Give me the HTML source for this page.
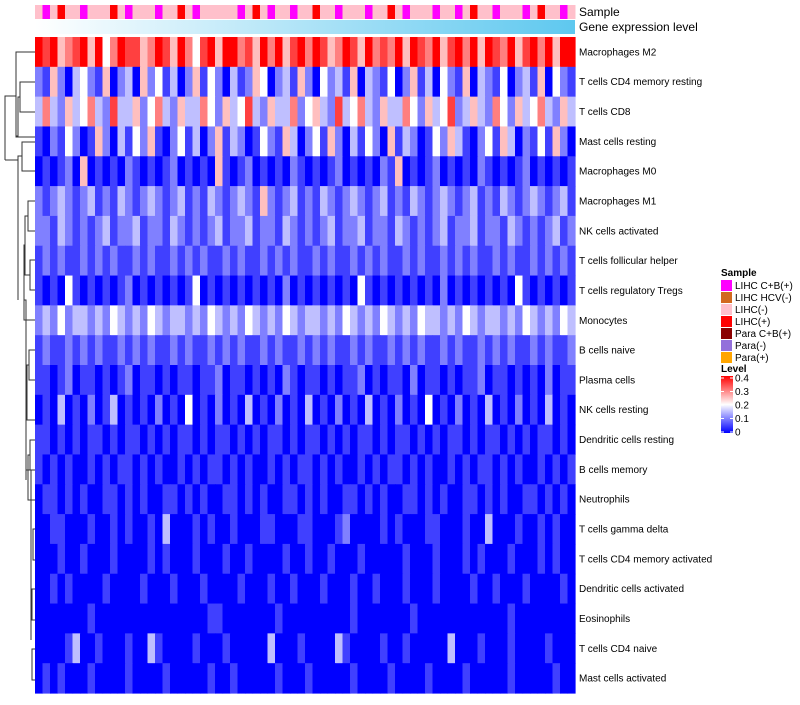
<!DOCTYPE html>
<html><head><meta charset="utf-8"><style>
body{margin:0;background:#fff;font-family:"Liberation Sans",sans-serif;}
svg text{font-family:"Liberation Sans",sans-serif;}
</style></head><body>
<svg id="c" width="800" height="700" xmlns="http://www.w3.org/2000/svg">
<defs>
<linearGradient id="ge" x1="0" x2="1"><stop offset="0" stop-color="#ffffff"/><stop offset="1" stop-color="#5ec8ef"/></linearGradient>
<linearGradient id="lv" x1="0" y1="1" x2="0" y2="0"><stop offset="0" stop-color="#0000ff"/><stop offset="0.5" stop-color="#ffffff"/><stop offset="1" stop-color="#ff0000"/></linearGradient>
</defs>
<g id="samp"></g>
<rect x="35" y="20" width="540" height="14" fill="url(#ge)"/>
<text x="579" y="16" font-size="12">Sample</text>
<text x="579" y="31" font-size="12">Gene expression level</text>
<g id="cells"></g>
<g id="labels"></g>
<g stroke="#333" fill="none" stroke-width="1">
<path d="M35,52 H16 V137 H35"/>
<path d="M16,96 H5 V160"/>
<path d="M35,82 H20 V112 H35"/>
<path d="M20,97 H18 V136 H16"/>
<path d="M35,142 H22 V171 H35"/>
<path d="M22,156 H18 V180"/>
<path d="M5,160 H18 V300"/>
<path d="M35,201 H28 V231 H35"/>
<path d="M35,260 H30 V290 H35"/>
<path d="M28,216 H25 V275 H30"/>
<path d="M25,245 H24 V320 H35"/>
<path d="M24,300 H26 V480"/>
<path d="M35,350 H29 V380 H35"/>
<path d="M29,365 H27 V420 H35"/>
<path d="M35,440 H30 V470 H35"/>
<path d="M30,455 H28 V500 H35"/>
<path d="M26,470 H31 V640"/>
<path d="M35,529 H33 V560 H35"/>
<path d="M35,589 H32 V620 H35"/>
<path d="M35,649 H32 V680 H35"/>
</g>
<g font-size="10">
<text x="721" y="276" font-weight="bold">Sample</text>
<g id="sleg"></g>
</g>
<g font-size="10">
<text x="721" y="372" font-weight="bold">Level</text>
<rect x="721" y="376" width="12" height="57" fill="url(#lv)"/>
<g id="lticks"></g>
</g>
</svg>
<script>
const rowNames=["Macrophages M2","T cells CD4 memory resting","T cells CD8","Mast cells resting","Macrophages M0","Macrophages M1","NK cells activated","T cells follicular helper","T cells regulatory  Tregs","Monocytes","B cells naive","Plasma cells","NK cells resting","Dendritic cells resting","B cells memory","Neutrophils","T cells gamma delta","T cells CD4 memory activated","Dendritic cells activated","Eosinophils","T cells CD4 naive","Mast cells activated"];
const rowValues=[
"878567858468775687586478588675868578687568758676858768578685876857868588",
"215203421502305241302514203125402315204231503214025130421503214023150421",
"363253463273352463253364253473253362453273463253364253472353264253463253",
"102142015203142510241302513201421530241520314205132014253102415302141520",
"010120501010210101201010510120101021010120101021501012010102101012010101",
"212321231213212321231213212321521231213212321231213212321231213212321231",
"221321212312231221321212312231221321212312231221321212312231221321212312",
"121211212121121211212121121211212121121211212121121211212121121211212121",
"101041010101201010101401010101010201010101041010101010201010101041010101",
"232423323243232432332324323243232432332324323243232433232432332324323243",
"121121212112121211212112121211212112121211212112121211212112121211212112",
"110120110101201101011011201101010210110101120101102011010112011010102011",
"010301020130101020104010201030102010301020103010201040102010301020103010",
"110101011010110101011010110101011010110101011010110101011010110101011010",
"101010010101101010010101101010010101101010010101101010010101101010010101",
"011010100110101001101010011010100110101001101010011010100110101001101010",
"001100010010100103000101001000110001100012000010100011000100300010010100",
"000100100010000101000100010010000100100100010000010001000101000100010100",
"001010000100001000100010000100010010001000100100010001000010010001000010",
"000000010000000000000001100000001000000000100000001000000000000100000000",
"000013001000100310000100010000030001000031000010010000030001000100001000",
"010100010000100001000001001000001000100000100001000010000100000100000100"];
const sampleCats=["LIHC C+B(+)","LIHC HCV(-)","LIHC(-)","LIHC(+)","Para C+B(+)","Para(-)","Para(+)"];
const sampleColors=["#ff00ff","#d2691e","#ffc0cb","#ff0000","#8b0000","#9370db","#ffa500"];
const sampleSeq="cacdccacccdcacccaccdcacccccacdcaccaccdccacccaccdcacccaccacdccacccacdccac";
const levelTicks=[0,0.1,0.2,0.3,0.4];
const NS="http://www.w3.org/2000/svg";
const X0=35,X1=575,Y0=37,Y1=693;
const rowH=(Y1-Y0)/rowNames.length;
function colorOf(v){v=Math.max(0,Math.min(0.4,v));let t;
 if(v<=0.2){t=v/0.2;const c=Math.round(255*t);return `rgb(${c},${c},255)`;}
 t=(v-0.2)/0.2;const c=Math.round(255*(1-t));return `rgb(255,${c},${c})`;}
function mk(tag,attrs,parent){const e=document.createElementNS(NS,tag);for(const k in attrs)e.setAttribute(k,attrs[k]);parent.appendChild(e);return e;}
const cells=document.getElementById('cells');
rowValues.forEach((s,r)=>{const n=s.length,w=(X1-X0)/n;
 for(let i=0;i<n;i++){const v=parseInt(s[i])*0.05;
  const e=mk('rect',{x:X0+i*w,y:Y0+r*rowH,width:w+0.6,height:rowH+0.6,fill:colorOf(v)},cells);
  
  }
});
const labels=document.getElementById('labels');
rowNames.forEach((nm,r)=>{const t=mk('text',{x:579,y:Y0+r*rowH+rowH/2+3.5,'font-size':10},labels);t.textContent=nm;
 
 });
const samp=document.getElementById('samp');
const sw=(X1-X0)/sampleSeq.length;
for(let i=0;i<sampleSeq.length;i++){const k=sampleSeq.charCodeAt(i)-97;
 const e=mk('rect',{x:X0+i*sw,y:5,width:sw+0.5,height:14,fill:sampleColors[k]},samp);
 
 }
const sleg=document.getElementById('sleg');
sampleCats.forEach((c,i)=>{const y=280+i*12;
 const g=mk('g',{},sleg);
 
 
 mk('rect',{x:721,y:y,width:11,height:11,fill:sampleColors[i]},g);
 const t=mk('text',{x:735,y:y+9},g);t.textContent=c;});
const lt=document.getElementById('lticks');
levelTicks.forEach(v=>{const y=432-(v/0.4)*54;
 mk('line',{x1:721,x2:724,y1:y,y2:y,stroke:'#fff'},lt);mk('line',{x1:730,x2:733,y1:y,y2:y,stroke:'#fff'},lt);
 const t=mk('text',{x:735,y:y+3.5},lt);t.textContent=String(v);
 
 });
</script>
</body></html>
